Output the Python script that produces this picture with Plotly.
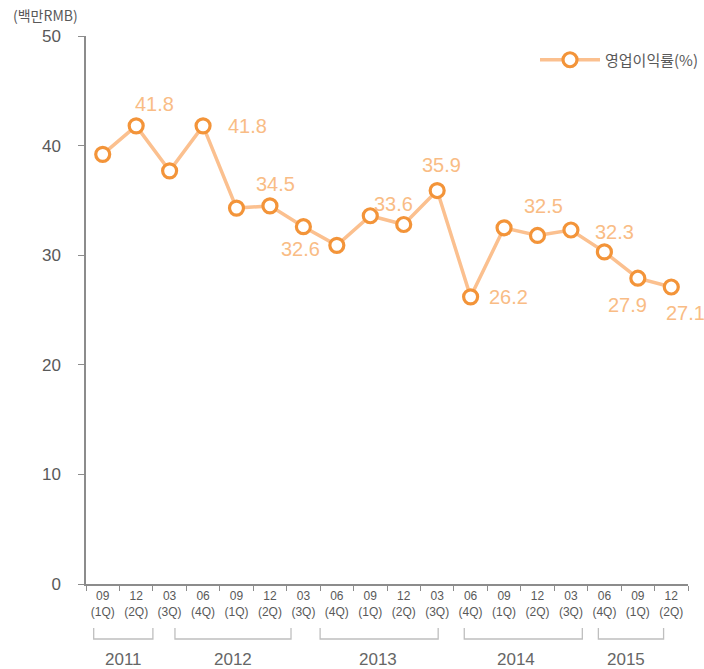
import plotly.graph_objects as go

# ---- data ----
periods = ["2011.09", "2011.12", "2012.03", "2012.06", "2012.09", "2012.12",
           "2013.03", "2013.06", "2013.09", "2013.12", "2014.03", "2014.06",
           "2014.09", "2014.12", "2015.03", "2015.06", "2015.09", "2015.12"]
tick_labels = ["09<br>(1Q)", "12<br>(2Q)", "03<br>(3Q)", "06<br>(4Q)", "09<br>(1Q)", "12<br>(2Q)",
               "03<br>(3Q)", "06<br>(4Q)", "09<br>(1Q)", "12<br>(2Q)", "03<br>(3Q)", "06<br>(4Q)",
               "09<br>(1Q)", "12<br>(2Q)", "03<br>(3Q)", "06<br>(4Q)", "09<br>(1Q)", "12<br>(2Q)"]
margin_rate = [39.2, 41.8, 37.7, 41.8, 34.3, 34.5, 32.6, 30.9, 33.6, 32.8,
               35.9, 26.2, 32.5, 31.8, 32.3, 30.3, 27.9, 27.1]
series_name = "영업이익률(%)"
unit_label = "(백만RMB)"

# labelled points (index) and label pixel offsets (style)
label_idx = [1, 3, 5, 6, 8, 10, 11, 12, 14, 16, 17]
label_off = [(18, 22), (44, 0), (6, 22), (-3, -22), (23, 12), (4, 26),
             (38, 0), (39, 22), (44, -2), (-10, -27), (14, -26)]

# year groups: bracket start/end and label center, in category units
years = ["2011", "2012", "2013", "2014", "2015"]
year_span = [(-0.27, 1.5), (2.16, 5.63), (6.5, 10.03), (10.81, 14.34), (14.82, 16.77)]
year_center = [0.63, 3.89, 8.23, 12.36, 15.66]

LINE = "#FBC08F"
MARK = "#F39439"
LABEL = "#F9BC85"
GRAY = "#595959"
FONT = "Liberation Sans, Arial, sans-serif"
KFONT = "Noto Sans CJK KR, sans-serif"

fig = go.Figure()
fig.add_trace(go.Scatter(
    x=periods, y=margin_rate, mode="lines+markers", name=series_name,
    line=dict(color=LINE, width=3.5),
    marker=dict(size=14, color="white", line=dict(color=MARK, width=3.2)),
))

for i, (dx, dy) in zip(label_idx, label_off):
    fig.add_annotation(x=i, y=margin_rate[i], xref="x", yref="y", text=f"{margin_rate[i]:.1f}",
                       showarrow=False, xshift=dx, yshift=dy,
                       font=dict(family=FONT, size=20, color=LABEL))

H = 548.0
W = 602.0
def py(Y):
    return (584 - Y) / H

for (a, b) in year_span:
    fig.add_shape(type="path", xref="x", yref="paper",
                  path=f"M {a},{py(628)} L {a},{py(639)} L {b},{py(639)} L {b},{py(628)}",
                  line=dict(color="#BFBFBF", width=1.3))
for yr, c in zip(years, year_center):
    fig.add_annotation(x=c, y=py(659), xref="x", yref="paper", yanchor="middle",
                       text=yr, showarrow=False,
                       font=dict(family=FONT, size=17, color="#666666"))

fig.add_annotation(x=(11 - 86) / W, xanchor="left", y=py(15), yanchor="middle",
                   xref="paper", yref="paper", text=unit_label, showarrow=False,
                   font=dict(family=KFONT, size=14, color=GRAY))

fig.update_layout(
    width=704, height=669,
    margin=dict(l=86, r=16, t=36, b=85, autoexpand=False),
    paper_bgcolor="white", plot_bgcolor="white",
    showlegend=True,
    legend=dict(xref="container", yref="container", x=703 / 704, xanchor="right",
                y=1 - 60 / 669, yanchor="middle", itemwidth=60,
                font=dict(family=KFONT, size=15, color=GRAY), bgcolor="rgba(0,0,0,0)"),
    xaxis=dict(type="category", categoryorder="array", categoryarray=periods,
               tickmode="array", tickvals=periods, ticktext=tick_labels, tickangle=0,
               automargin=False,
               tickson="boundaries", ticks="outside", ticklen=5, tickcolor="#8C8C8C",
               showline=True, linecolor="#8C8C8C", linewidth=1.5, showgrid=False,
               tickfont=dict(family=FONT, size=12, color=GRAY), range=[-0.5, 17.5]),
    yaxis=dict(range=[0, 50], tickvals=[0, 10, 20, 30, 40, 50], ticks="outside", ticklen=6,
               automargin=False, ticklabelstandoff=14,
               tickcolor="#8C8C8C", showline=True, linecolor="#8C8C8C", linewidth=1.5,
               showgrid=False, zeroline=False,
               tickfont=dict(family=FONT, size=17, color=GRAY)),
)

fig.write_html("out.html", config={"displayModeBar": False},
               post_script="document.body.style.margin='0';document.body.style.overflow='hidden';")
